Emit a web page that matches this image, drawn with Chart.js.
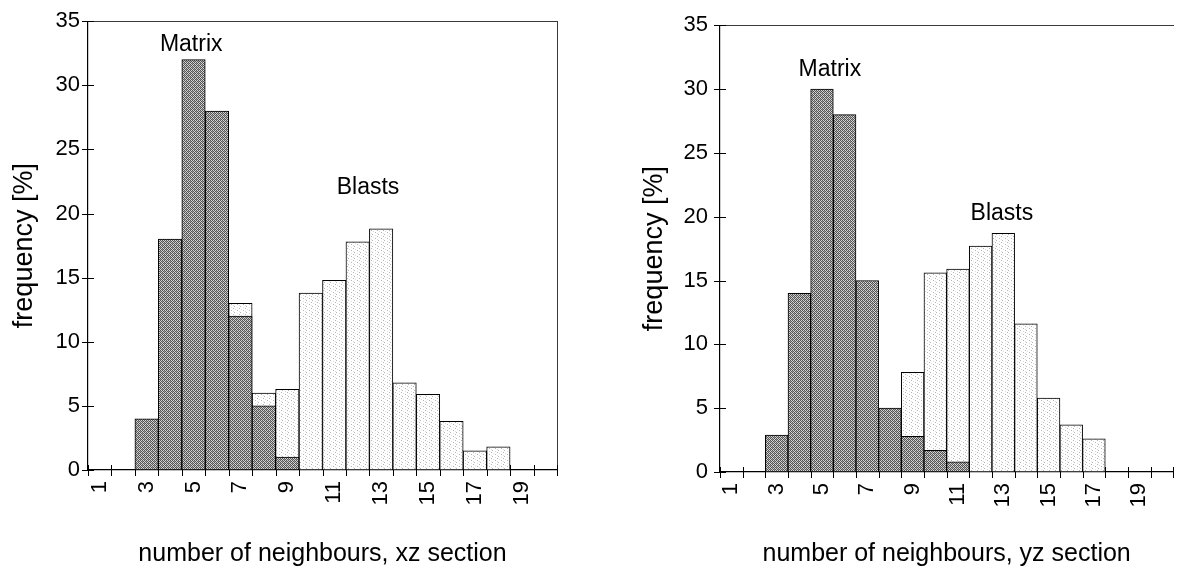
<!DOCTYPE html>
<html>
<head>
<meta charset="utf-8">
<script src="https://cdn.jsdelivr.net/npm/chart.js@4.4.0/dist/chart.umd.min.js"></script>
<style>
  html, body { margin: 0; padding: 0; background: #fff; overflow: hidden; }
  #wrap { position: relative; width: 1187px; height: 574px; overflow: hidden; }
  .pane { position: absolute; top: 0; width: 600px; height: 574px; }
  #leftPane { left: 0; }
  #rightPane { left: 600px; }
</style>
</head>
<body>
<div id="wrap">
  <div class="pane" id="leftPane"><canvas id="c1" width="600" height="574"></canvas></div>
  <div class="pane" id="rightPane"><canvas id="c2" width="600" height="574"></canvas></div>
</div>
<script>
// ---------------- data ----------------
const categories = [1,2,3,4,5,6,7,8,9,10,11,12,13,14,15,16,17,18,19,20];
const tickLabels = ['1','','3','','5','','7','','9','','11','','13','','15','','17','','19',''];
const yTicks = [0,5,10,15,20,25,30,35];

const xzMatrix = [null,null,4,18,32,28,12,5,1,null,null,null,null,null,null,null,null,null,null,null];
const xzBlasts = [null,null,null,null,null,null,13,6,6.3,13.8,14.8,17.8,18.8,6.8,5.9,3.8,1.5,1.8,null,null];

const yzMatrix = [null,null,2.9,14,30,28,15,5,2.8,1.7,0.8,null,null,null,null,null,null,null,null,null];
const yzBlasts = [null,null,null,null,null,null,null,null,7.8,15.6,15.9,17.7,18.7,11.6,5.8,3.7,2.6,null,null,null];

const seriesNames = ['Matrix', 'Blasts'];
const xTitles = ['number of neighbours, xz section', 'number of neighbours, yz section'];
const yTitle = 'frequency [%]';

// ---------------- fill patterns ----------------
function makePattern(cells, size) {
  const c = document.createElement('canvas');
  c.width = size; c.height = size;
  const g = c.getContext('2d');
  for (let yy = 0; yy < size; yy++) {
    for (let xx = 0; xx < size; xx++) {
      g.fillStyle = cells[yy][xx];
      g.fillRect(xx, yy, 1, 1);
    }
  }
  return g.createPattern(c, 'repeat');
}
const D = '#555555', L = '#d4d4d4', M = '#9a9a9a';
const darkPattern = makePattern([
  [D, L, D, L],
  [L, D, M, D],
  [D, L, D, L],
  [M, D, L, D]
], 4);
const W = '#ffffff', G = '#b4b4b4', g2 = '#dedede';
const lightPattern = makePattern([
  [G, W, W, W, W, W],
  [W, W, W, g2, W, W],
  [W, W, W, W, W, G],
  [W, g2, W, W, W, W],
  [W, W, W, G, W, W],
  [W, W, W, W, W, g2]
], 6);

const FONT = "'Liberation Sans', Arial, Helvetica, sans-serif";

// ---------------- plugins ----------------
const crossTicks = {
  id: 'crossTicks',
  beforeDatasetsDraw(chart) {
    const {ctx} = chart;
    const x = chart.scales.x, y = chart.scales.y;
    ctx.save();
    ctx.strokeStyle = '#000';
    ctx.lineWidth = 1;
    const step = x.getPixelForValue(1) - x.getPixelForValue(0);
    for (let i = 0; i <= categories.length; i++) {
      const px = Math.round(x.getPixelForValue(i) - step / 2) + 0.5;
      ctx.beginPath();
      ctx.moveTo(px, y.bottom - 5);
      ctx.lineTo(px, y.bottom + 6);
      ctx.stroke();
    }
    y.ticks.forEach(t => {
      const py = Math.round(y.getPixelForValue(t.value)) + 0.5;
      ctx.beginPath();
      ctx.moveTo(x.left - 6, py);
      ctx.lineTo(x.left + 6, py);
      ctx.stroke();
    });
    ctx.restore();
  }
};

const seriesText = {
  id: 'seriesText',
  afterDatasetsDraw(chart, args, opts) {
    const {ctx} = chart;
    const x = chart.scales.x, y = chart.scales.y;
    ctx.save();
    ctx.fillStyle = '#000';
    ctx.font = '23px ' + FONT;
    ctx.textAlign = 'center';
    ctx.textBaseline = 'middle';
    (opts.items || []).forEach(it => {
      ctx.fillText(it.text, x.getPixelForValue(it.at[0]), y.getPixelForValue(it.at[1]));
    });
    ctx.restore();
  }
};

function makeChart(id, matrix, blasts, xTitle, cfg) {
  const scales = {
    x: {
      type: 'category',
      offset: true,
      grid: { display: false, drawTicks: false },
      border: { display: true, color: '#000', width: 1.2 },
      ticks: {
        autoSkip: false, maxRotation: 90, minRotation: 90,
        padding: 11, color: '#000',
        font: { family: FONT, size: 22 },
        callback: (v, i) => tickLabels[i]
      },
      title: {
        display: true, text: xTitle, color: '#000',
        font: { family: FONT, size: 25 },
        padding: { top: 0, bottom: cfg.xTitlePad },
        align: 'center'
      },
      afterFit: s => { s.height = cfg.xHeight; }
    },
    y: {
      type: 'linear', min: 0, max: 35,
      grid: { display: false, drawTicks: false },
      border: { display: true, color: '#000', width: 1.2 },
      ticks: {
        stepSize: 5, padding: cfg.yTickPad, color: '#000',
        font: { family: FONT, size: 22 },
        callback: v => yTicks.includes(v) ? String(v) : ''
      },
      title: {
        display: true, text: yTitle, color: '#000',
        font: { family: FONT, size: 27 },
        padding: { top: cfg.yTitlePad, bottom: 0 }
      },
      afterFit: s => { s.width = cfg.yWidth; }
    },
    xTop: {
      type: 'linear', position: 'top', min: 0, max: 1,
      grid: { display: false, drawTicks: false },
      border: { display: true, color: '#3a3a3a', width: 1 },
      ticks: { display: false },
      afterFit: s => { s.height = 0; }
    }
  };
  if (cfg.rightBorder) {
    scales.yRight = {
      type: 'linear', position: 'right', min: 0, max: 1,
      grid: { display: false, drawTicks: false },
      border: { display: true, color: '#3a3a3a', width: 1 },
      ticks: { display: false },
      afterFit: s => { s.width = 0; }
    };
  }
  return new Chart(document.getElementById(id), {
    type: 'bar',
    data: {
      labels: categories.map(String),
      datasets: [
        {
          label: seriesNames[0], data: matrix,
          backgroundColor: darkPattern, borderColor: '#000', borderWidth: 1,
          borderSkipped: false, grouped: false,
          categoryPercentage: 1.0, barPercentage: 1.0
        },
        {
          label: seriesNames[1], data: blasts,
          backgroundColor: lightPattern, borderColor: '#000', borderWidth: 1,
          borderSkipped: false, grouped: false,
          categoryPercentage: 1.0, barPercentage: 1.0
        }
      ]
    },
    options: {
      responsive: false,
      animation: false,
      layout: { padding: cfg.padding },
      plugins: {
        legend: { display: false },
        tooltip: { enabled: false },
        title: { display: false },
        seriesText: { items: cfg.texts }
      },
      scales
    },
    plugins: [crossTicks, seriesText]
  });
}

makeChart('c1', xzMatrix, xzBlasts, xTitles[0], {
  padding: { left: 0, top: 18, right: 43, bottom: 0 },
  yWidth: 88, xHeight: 104, yTickPad: 8, yTitlePad: 8, xTitlePad: 5,
  rightBorder: true,
  texts: [
    { text: seriesNames[0], at: [3.9, 33.2] },
    { text: seriesNames[1], at: [11.44, 22.0] }
  ]
});

makeChart('c2', yzMatrix, yzBlasts, xTitles[1], {
  padding: { left: 30, top: 23, right: 12, bottom: 0 },
  yWidth: 90, xHeight: 102, yTickPad: 12, yTitlePad: 8, xTitlePad: 5,
  rightBorder: false,
  texts: [
    { text: seriesNames[0], at: [4.35, 31.5] },
    { text: seriesNames[1], at: [11.94, 20.2] }
  ]
});
</script>
</body>
</html>
